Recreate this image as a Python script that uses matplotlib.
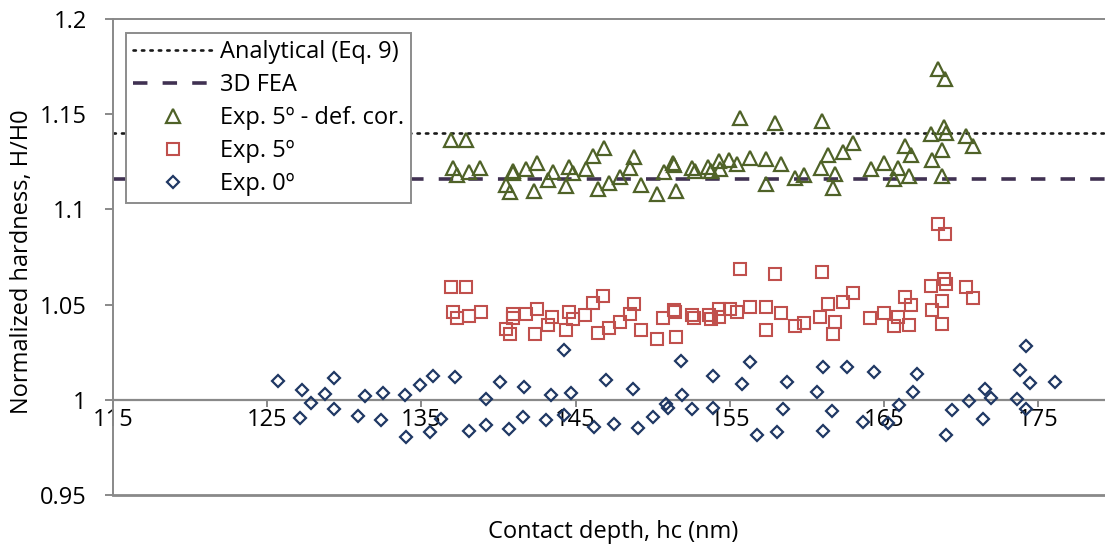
import matplotlib
matplotlib.use("Agg")
import matplotlib.pyplot as plt

# ---------------- data ----------------
analytical_value = 1.14
fea_value = 1.116

exp0_x = [125.69, 127.11, 127.27, 127.81, 128.76, 129.32, 129.32, 130.88, 131.37, 132.35,
          132.52, 133.92, 134.01, 134.88, 135.53, 135.77, 136.24, 137.19, 138.11, 139.16,
          139.19, 140.07, 140.71, 141.58, 141.67, 143.11, 143.39, 144.28, 144.28, 144.67,
          146.18, 146.94, 147.50, 148.74, 149.03, 150.01, 150.88, 151.00, 151.82, 151.89,
          152.55, 153.94, 153.94, 155.80, 156.30, 156.78, 158.07, 158.46, 158.68, 160.67,
          161.03, 161.03, 161.60, 162.61, 163.65, 164.36, 165.27, 165.96, 166.91, 167.17,
          168.99, 169.38, 170.54, 171.43, 171.54, 171.95, 173.64, 173.79, 174.18, 174.24,
          174.50, 176.06]
exp0_y = [1.0099, 0.9906, 1.0052, 0.9983, 1.0030, 1.0117, 0.9954, 0.9913, 1.0020, 0.9896,
          1.0036, 1.0025, 0.9804, 1.0076, 0.9831, 1.0127, 0.9900, 1.0120, 0.9834, 1.0004,
          0.9866, 1.0092, 0.9849, 0.9910, 1.0067, 0.9894, 1.0024, 1.0259, 0.9919, 1.0036,
          0.9857, 1.0103, 0.9871, 1.0057, 0.9854, 0.9910, 0.9976, 0.9959, 1.0206, 1.0025,
          0.9954, 1.0125, 0.9959, 1.0083, 1.0197, 0.9813, 0.9831, 0.9954, 1.0096, 1.0041,
          1.0174, 0.9836, 0.9943, 1.0171, 0.9883, 1.0146, 0.9878, 0.9973, 1.0039, 1.0137,
          0.9817, 0.9945, 0.9992, 0.9897, 1.0059, 1.0009, 1.0006, 1.0159, 0.9950, 1.0283,
          1.0088, 1.0094]

exp5_x = [136.93, 137.86, 137.02, 137.32, 138.07, 138.87, 140.50, 140.73, 140.93, 140.97,
          141.77, 142.34, 142.51, 143.18, 143.50, 144.36, 144.60, 144.84, 145.64, 146.14,
          146.44, 146.79, 147.15, 147.91, 148.54, 148.77, 149.25, 150.29, 150.70, 151.37,
          151.46, 151.50, 152.56, 152.71, 153.64, 153.75, 154.33, 154.33, 155.00, 155.48,
          155.65, 156.30, 157.33, 157.33, 157.92, 158.29, 159.20, 159.80, 160.99, 160.88,
          161.38, 161.81, 161.71, 162.31, 162.98, 164.12, 164.97, 165.62, 165.89, 166.35,
          166.61, 166.76, 168.53, 168.94, 168.02, 168.86, 169.05, 168.75, 168.10, 168.75,
          170.33, 170.78]
exp5_y = [1.0591, 1.0595, 1.0460, 1.0427, 1.0440, 1.0460, 1.0374, 1.0343, 1.0449, 1.0431,
          1.0451, 1.0343, 1.0477, 1.0392, 1.0435, 1.0367, 1.0460, 1.0425, 1.0444, 1.0509,
          1.0350, 1.0546, 1.0377, 1.0409, 1.0453, 1.0502, 1.0365, 1.0320, 1.0427, 1.0470,
          1.0460, 1.0332, 1.0444, 1.0427, 1.0444, 1.0423, 1.0479, 1.0435, 1.0479, 1.0461,
          1.0686, 1.0488, 1.0488, 1.0365, 1.0661, 1.0458, 1.0390, 1.0404, 1.0670, 1.0435,
          1.0502, 1.0409, 1.0344, 1.0516, 1.0560, 1.0430, 1.0458, 1.0386, 1.0435, 1.0542,
          1.0395, 1.0497, 1.0921, 1.0870, 1.0598, 1.0632, 1.0607, 1.0521, 1.0470, 1.0397,
          1.0590, 1.0537]

exp5c_x = [136.95, 137.86, 137.02, 137.30, 138.07, 138.83, 140.47, 140.73, 140.91, 140.95,
           141.77, 142.29, 142.51, 143.18, 143.52, 144.35, 144.60, 144.86, 145.66, 146.12,
           146.47, 146.81, 147.18, 147.91, 148.54, 148.80, 149.25, 150.31, 150.72, 151.33,
           151.41, 151.50, 152.58, 152.73, 153.57, 153.75, 154.33, 154.35, 154.98, 155.48,
           155.63, 156.30, 157.36, 157.33, 157.94, 158.29, 159.20, 159.78, 160.99, 160.90,
           161.40, 161.81, 161.71, 162.31, 162.98, 164.14, 164.99, 165.62, 165.92, 166.35,
           166.61, 166.78, 168.52, 168.94, 168.03, 168.86, 169.05, 168.75, 168.10, 168.75,
           170.33, 170.78]
exp5c_y = [1.1362, 1.1364, 1.1215, 1.1183, 1.1198, 1.1217, 1.1127, 1.1089, 1.1192, 1.1203,
           1.1210, 1.1097, 1.1245, 1.1152, 1.1197, 1.1124, 1.1224, 1.1189, 1.1210, 1.1280,
           1.1106, 1.1320, 1.1140, 1.1171, 1.1218, 1.1276, 1.1127, 1.1080, 1.1197, 1.1242,
           1.1233, 1.1096, 1.1218, 1.1203, 1.1224, 1.1201, 1.1254, 1.1210, 1.1259, 1.1236,
           1.1481, 1.1269, 1.1264, 1.1136, 1.1455, 1.1236, 1.1163, 1.1180, 1.1465, 1.1215,
           1.1285, 1.1185, 1.1115, 1.1303, 1.1350, 1.1210, 1.1242, 1.1159, 1.1215, 1.1334,
           1.1176, 1.1285, 1.1739, 1.1685, 1.1396, 1.1431, 1.1402, 1.1311, 1.1257, 1.1176,
           1.1387, 1.1332]

x_ticks = [115, 125, 135, 145, 155, 165, 175]
y_ticks = [0.95, 1.0, 1.05, 1.1, 1.15, 1.2]
y_ticklabels = ["0.95", "1", "1.05", "1.1", "1.15", "1.2"]

# ---------------- style ----------------
plt.rcParams['font.family'] = ['Open Sans', 'DejaVu Sans']
FS = 17
LFS = 17
AXC = '#898989'

W, H = 1105, 548
fig = plt.figure(figsize=(W / 100, H / 100), dpi=100)
left, right, top, bottom = 113, 1105, 19, 495
ax = fig.add_axes([left / W, 1 - bottom / H, (right - left) / W, (bottom - top) / H])

ax.set_xlim(115, 115 + (right - left) / 15.42)
ax.set_ylim(0.95, 1.2)

ax.axhline(analytical_value, color='#1a1a1a', lw=1.9, linestyle=(0, (0.9, 2.3)),
           dash_capstyle='round', label='Analytical (Eq. 9)', zorder=2)
ax.axhline(fea_value, color='#403152', lw=2.6, linestyle=(0, (4, 4.2)),
           label='3D FEA', zorder=2)

ax.plot(exp5c_x, exp5c_y, linestyle='none', marker='^', markersize=9.5,
        markerfacecolor='none', markeredgecolor='#4F6228', markeredgewidth=1.6,
        label='Exp. 5º - def. cor.', zorder=3)
ax.plot(exp5_x, exp5_y, linestyle='none', marker='s', markersize=8,
        markerfacecolor='none', markeredgecolor='#C0504D', markeredgewidth=1.5,
        label='Exp. 5º', zorder=3)
ax.plot(exp0_x, exp0_y, linestyle='none', marker='D', markersize=5.8,
        markerfacecolor='none', markeredgecolor='#1F3864', markeredgewidth=1.6,
        label='Exp. 0º', zorder=3)

# frame
for s in ['left', 'top']:
    ax.spines[s].set_color(AXC)
    ax.spines[s].set_linewidth(1.4)
ax.spines['right'].set_visible(False)
ax.spines['bottom'].set_position(('data', 1.0))
ax.spines['bottom'].set_color(AXC)
ax.spines['bottom'].set_linewidth(1.6)
ax.axhline(0.95, color=AXC, lw=2.0, clip_on=False, zorder=1)

ax.set_xticks(x_ticks)
ax.set_xticklabels([str(v) for v in x_ticks])
ax.set_yticks(y_ticks)
ax.set_yticklabels(y_ticklabels)
ax.tick_params(axis='x', direction='out', length=5, width=1.4, color=AXC,
               labelsize=FS, pad=1)
ax.tick_params(axis='y', direction='out', length=6, width=1.4, color=AXC,
               labelsize=FS, pad=13)

fig.text(22 / W, 1 - 262 / H, 'Normalized hardness, H/H0', rotation=90,
         ha='center', va='center', fontsize=FS)
fig.text(613 / W, 1 - 532 / H, 'Contact depth, hc (nm)', ha='center', va='center',
         fontsize=FS)

leg = ax.legend(loc='upper left', bbox_to_anchor=((126 - left) / (right - left),
                                                  1 - (33 - top) / (bottom - top)),
                borderaxespad=0, fontsize=LFS, frameon=True, fancybox=False,
                edgecolor='#8c8c8c', handlelength=3.35, handletextpad=0.33,
                labelspacing=0.38, borderpad=0.3, framealpha=1)
leg.get_frame().set_linewidth(1.4)

fig.savefig('out.png', dpi=100)
